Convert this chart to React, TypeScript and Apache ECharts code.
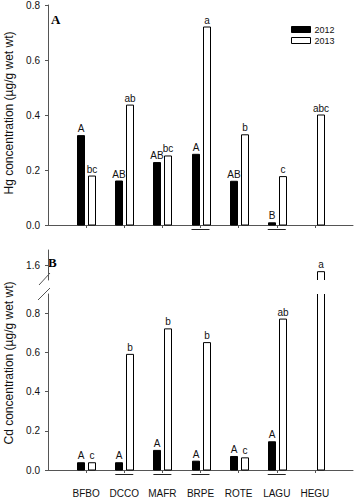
import { useEffect, useRef } from 'react';
import * as echarts from 'echarts';

const categories = ['BFBO', 'DCCO', 'MAFR', 'BRPE', 'ROTE', 'LAGU', 'HEGU'];

const hg2012: (number | null)[] = [0.325, 0.16, 0.227, 0.257, 0.159, 0.008, null];
const hg2013: (number | null)[] = [0.178, 0.436, 0.251, 0.72, 0.328, 0.176, 0.4];
const hgLetters2012 = ['A', 'AB', 'AB', 'A', 'AB', 'B', ''];
const hgLetters2013 = ['bc', 'ab', 'bc', 'a', 'b', 'c', 'abc'];
const hgUnderlined = ['BRPE', 'LAGU'];
const hgTicks = [0, 0.2, 0.4, 0.6, 0.8];

const cd2012: (number | null)[] = [0.037, 0.037, 0.1, 0.045, 0.069, 0.144, null];
const cd2013: (number | null)[] = [0.037, 0.59, 0.72, 0.65, 0.062, 0.77, 1.566];
const cdLetters2012 = ['A', 'A', 'A', 'A', 'A', 'A', ''];
const cdLetters2013 = ['c', 'b', 'b', 'b', 'c', 'ab', 'a'];
const cdUnderlined = ['DCCO', 'MAFR', 'BRPE', 'LAGU'];
const cdLowTicks = [0, 0.2, 0.4, 0.6, 0.8];
const cdHighTicks = [1.6];

const catTicks = categories.map((_, i) => i + 1);

const FONT = '"Liberation Sans", Arial, sans-serif';
const AXIS_COLOR = '#555';
const TEXT_COLOR = '#111';
const BAR_W = 7;

function makeBarRender(offset: number, fill: string, letters: string[]) {
  return (params: any, api: any) => {
    const x = api.value(0);
    const v = api.value(1);
    if (v == null || isNaN(v)) return null;
    const base = api.coord([x, 0]);
    const tip = api.coord([x, v]);
    const cs = params.coordSys;
    const gTop = cs.y;
    const gBot = cs.y + cs.height;
    const y0 = Math.min(base[1], gBot);
    const y1 = Math.max(tip[1], gTop);
    if (y1 >= y0) return null;
    const botOpen = base[1] > gBot + 0.5;
    const topOpen = tip[1] < gTop - 0.5;
    const l = Math.round(base[0] + offset - BAR_W / 2) + 0.5;
    const r = l + BAR_W;
    const children: any[] = [
      { type: 'rect', shape: { x: l, y: y1, width: BAR_W, height: y0 - y1 }, style: { fill, stroke: null } },
    ];
    const stroke = { stroke: '#000', lineWidth: 1, fill: null };
    children.push({ type: 'line', shape: { x1: l, y1: y1, x2: l, y2: y0 }, style: stroke });
    children.push({ type: 'line', shape: { x1: r, y1: y1, x2: r, y2: y0 }, style: stroke });
    if (!topOpen) children.push({ type: 'line', shape: { x1: l, y1: y1, x2: r, y2: y1 }, style: stroke });
    if (!botOpen) children.push({ type: 'line', shape: { x1: l, y1: y0, x2: r, y2: y0 }, style: stroke });
    const letter = letters[params.dataIndex];
    if (!topOpen && letter) {
      children.push({
        type: 'text',
        x: (l + r) / 2,
        y: y1 - 2,
        style: {
          text: letter,
          font: `10px ${FONT}`,
          fill: TEXT_COLOR,
          align: 'center',
          verticalAlign: 'bottom',
          textAlign: 'center',
          textVerticalAlign: 'bottom',
        },
      });
    }
    return { type: 'group', children };
  };
}

function underlineRender(params: any, api: any) {
  const x = api.value(0);
  const p = api.coord([x, 0]);
  const y = Math.round(p[1] + 4) + 0.5;
  return {
    type: 'line',
    shape: { x1: p[0] - 9, y1: y, x2: p[0] + 9, y2: y },
    style: { stroke: '#222', lineWidth: 1 },
  };
}

function toData(vals: (number | null)[]) {
  return vals.map((v, i) => [i + 1, v == null ? NaN : v]);
}

function underlineData(list: string[]) {
  return list.map((c) => [categories.indexOf(c) + 1, 0]);
}

const yLabelFmt = (v: number) => v.toFixed(1);

export default function App() {
  const ref = useRef<HTMLDivElement>(null);
  useEffect(() => {
    if (!ref.current) return;
    const chart = echarts.init(ref.current, undefined, { renderer: 'svg' });

    const xAxisBase = (gridIndex: number, show: boolean, labels: boolean) => ({
      type: 'value',
      gridIndex,
      min: 0,
      max: 8,
      interval: 1,
      show,
      offset: 10,
      axisLine: { show: true, lineStyle: { color: AXIS_COLOR, width: 1 } },
      axisTick: { show: true, length: 3, customValues: catTicks, lineStyle: { color: AXIS_COLOR } },
      axisLabel: {
        show: labels,
        customValues: catTicks,
        formatter: (v: number) => categories[Math.round(v) - 1] || '',
        fontFamily: FONT,
        fontSize: 10,
        color: TEXT_COLOR,
        margin: 8,
      },
      splitLine: { show: false },
    });

    const yAxisBase = (gridIndex: number, min: number, max: number, ticks: number[]) => ({
      type: 'value',
      gridIndex,
      min,
      max,
      offset: 5,
      axisLine: { show: true, lineStyle: { color: AXIS_COLOR, width: 1 } },
      axisTick: { show: true, length: 3, customValues: ticks, lineStyle: { color: AXIS_COLOR } },
      axisLabel: {
        customValues: ticks,
        formatter: yLabelFmt,
        fontFamily: FONT,
        fontSize: 10,
        color: TEXT_COLOR,
        margin: 3,
      },
      splitLine: { show: false },
    });

    const barSeries = (name: string, idx: number, vals: (number | null)[], letters: string[], offset: number, fill: string) => ({
      type: 'custom',
      name,
      xAxisIndex: idx,
      yAxisIndex: idx,
      data: toData(vals),
      encode: { x: 0, y: 1 },
      itemStyle: fill === '#000' ? { color: '#000' } : { color: '#fff', borderColor: '#000', borderWidth: 1 },
      renderItem: makeBarRender(offset, fill, letters),
    });

    const ulSeries = (idx: number, list: string[]) => ({
      type: 'custom',
      name: 'underline',
      xAxisIndex: idx,
      yAxisIndex: idx,
      data: underlineData(list),
      encode: { x: 0, y: 1 },
      renderItem: underlineRender,
    });

    const cdHigh2013 = cd2013.map((v) => (v != null && v > 1 ? v : null));

    chart.setOption({
      animation: false,
      backgroundColor: '#fff',
      grid: [
        { left: 48, top: 5, width: 305, height: 220 },
        { left: 48, top: 250, width: 305, height: 30 },
        { left: 48, top: 294, width: 305, height: 176 },
      ],
      xAxis: [xAxisBase(0, true, false), xAxisBase(1, false, false), xAxisBase(2, true, true)],
      yAxis: [
        { ...yAxisBase(0, 0, 0.8, hgTicks), interval: 0.2 },
        yAxisBase(1, 1.5234, 1.6766, cdHighTicks),
        yAxisBase(2, 0, 0.898, cdLowTicks),
      ],
      legend: {
        orient: 'vertical',
        left: 291,
        top: 25,
        itemWidth: 19,
        itemHeight: 6,
        itemGap: 2,
        padding: 0,
        selectedMode: false,
        textStyle: { fontFamily: FONT, fontSize: 9, color: TEXT_COLOR, padding: [0, 0, 0, -1] },
        data: [
          { name: '2012', icon: 'rect', itemStyle: { color: '#000', borderColor: '#000', borderWidth: 1 } },
          { name: '2013', icon: 'rect', itemStyle: { color: '#fff', borderColor: '#000', borderWidth: 1 } },
        ],
      },
      graphic: [
        {
          type: 'text',
          x: 51,
          y: 19,
          style: { text: 'A', font: 'bold 13px "Liberation Serif", "Times New Roman", serif', fill: '#000', align: 'left', verticalAlign: 'middle', textAlign: 'left', textVerticalAlign: 'middle' },
        },
        {
          type: 'text',
          x: 48,
          y: 262,
          style: { text: 'B', font: 'bold 13px "Liberation Serif", "Times New Roman", serif', fill: '#000', align: 'left', verticalAlign: 'middle', textAlign: 'left', textVerticalAlign: 'middle' },
        },
        {
          type: 'text',
          x: 8.5,
          y: 113,
          rotation: Math.PI / 2,
          style: { text: 'Hg concentration (µg/g wet wt)', font: `12px ${FONT}`, fill: TEXT_COLOR, align: 'center', verticalAlign: 'middle', textAlign: 'center', textVerticalAlign: 'middle' },
        },
        {
          type: 'text',
          x: 8.5,
          y: 363,
          rotation: Math.PI / 2,
          style: { text: 'Cd concentration (µg/g wet wt)', font: `12px ${FONT}`, fill: TEXT_COLOR, align: 'center', verticalAlign: 'middle', textAlign: 'center', textVerticalAlign: 'middle' },
        },
        { type: 'line', shape: { x1: 39, y1: 285, x2: 50, y2: 273 }, style: { stroke: AXIS_COLOR, lineWidth: 1 } },
        { type: 'line', shape: { x1: 38, y1: 300, x2: 50, y2: 288 }, style: { stroke: AXIS_COLOR, lineWidth: 1 } },
      ],
      series: [
        barSeries('2012', 0, hg2012, hgLetters2012, -5.5, '#000'),
        barSeries('2013', 0, hg2013, hgLetters2013, 5.5, '#fff'),
        ulSeries(0, hgUnderlined),
        barSeries('2013', 1, cdHigh2013, cdLetters2013, 5.5, '#fff'),
        barSeries('2012', 2, cd2012, cdLetters2012, -5.5, '#000'),
        barSeries('2013', 2, cd2013, cdLetters2013, 5.5, '#fff'),
        ulSeries(2, cdUnderlined),
      ],
    });
    return () => chart.dispose();
  }, []);
  return <div ref={ref} style={{ position: 'fixed', left: 0, top: 0, width: 355, height: 500, background: '#fff' }} />;
}
